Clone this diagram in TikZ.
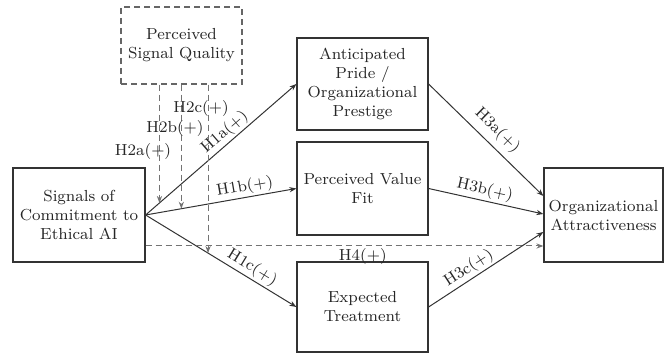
\documentclass[tikz,border=0pt]{standalone}
\usepackage{amsmath, amssymb}
\usepackage{tikz}
\usetikzlibrary{arrows.meta, calc}

\begin{document}
\begin{tikzpicture}[x=0.5pt, y=-0.5pt, font=\footnotesize,
  box/.style={draw=black!80, text=black!85, align=center, inner sep=0pt, line width=0.6pt},
  link/.style={draw=black!80, line width=0.5pt, -{Stealth[length=3.5pt,width=2.6pt]}},
  mod/.style={link, draw=black!55, dash pattern=on 3pt off 2pt},
  hyp/.style={text=black!85, inner sep=1pt}]
\useasboundingbox (0,0) rectangle (665,353);
\node[box, draw=black!60, dash pattern=on 3pt off 2pt, minimum width=60.5pt, minimum height=38.5pt] (quality) at (181.5,45.5) {Perceived\\Signal Quality};
\node[box, minimum width=66pt, minimum height=47pt] (signals) at (79,215) {Signals of\\Commitment to\\Ethical AI};
\node[box, minimum width=65.5pt, minimum height=46pt] (pride) at (362.5,84) {Anticipated\\Pride /\\Organizational\\Prestige};
\node[box, minimum width=65.5pt, minimum height=46.5pt] (fit) at (362.5,188.5) {Perceived Value\\Fit};
\node[box, minimum width=65.5pt, minimum height=45pt] (treat) at (362.5,307) {Expected\\Treatment};
\node[box, minimum width=59.5pt, minimum height=47pt] (attract) at (603.5,215) {Organizational\\Attractiveness};
\draw[link] (signals.east) -- (pride.west) node[hyp, sloped, above, pos=0.57] {H1a(+)};
\draw[link] (signals.east) -- (fit.west) node[hyp, sloped, above, pos=0.67] {H1b(+)};
\draw[link] (signals.east) -- (treat.west) node[hyp, sloped, above, pos=0.67] {H1c(+)};
\draw[mod] ($(signals.east)+(0,31)$) -- ($(attract.west)+(0,31)$) node[hyp, below, pos=0.546] {H4(+)};
\draw[link] (pride.east) -- ($(attract.west)+(0,-19)$) node[hyp, sloped, above, pos=0.51, inner sep=3pt] {H3a(+)};
\draw[link] (fit.east) -- ($(attract.west)+(0,-1)$) node[hyp, sloped, above, pos=0.47] {H3b(+)};
\draw[link] (treat.east) -- ($(attract.west)+(0,17)$) node[hyp, sloped, above, pos=0.4] {H3c(+)};
% moderation
\coordinate (m1) at ($(signals.east)!0.092!(pride.west)$);
\coordinate (m2) at ($(signals.east)!0.237!(fit.west)$);
\coordinate (m3) at ($(signals.east)!0.414!(treat.west)$);
\draw[mod] (quality.south -| m1) -- (m1);
\draw[mod] (quality.south -| m2) -- (m2);
\draw[mod] (quality.south -| m3) -- (m3);
\node[hyp] (h2a) at (143,152) {H2a(+)};
\node[hyp] (h2b) at (175,129) {H2b(+)};
\node[hyp] (h2c) at (201,109) {H2c(+)};
\end{tikzpicture}
\end{document}
